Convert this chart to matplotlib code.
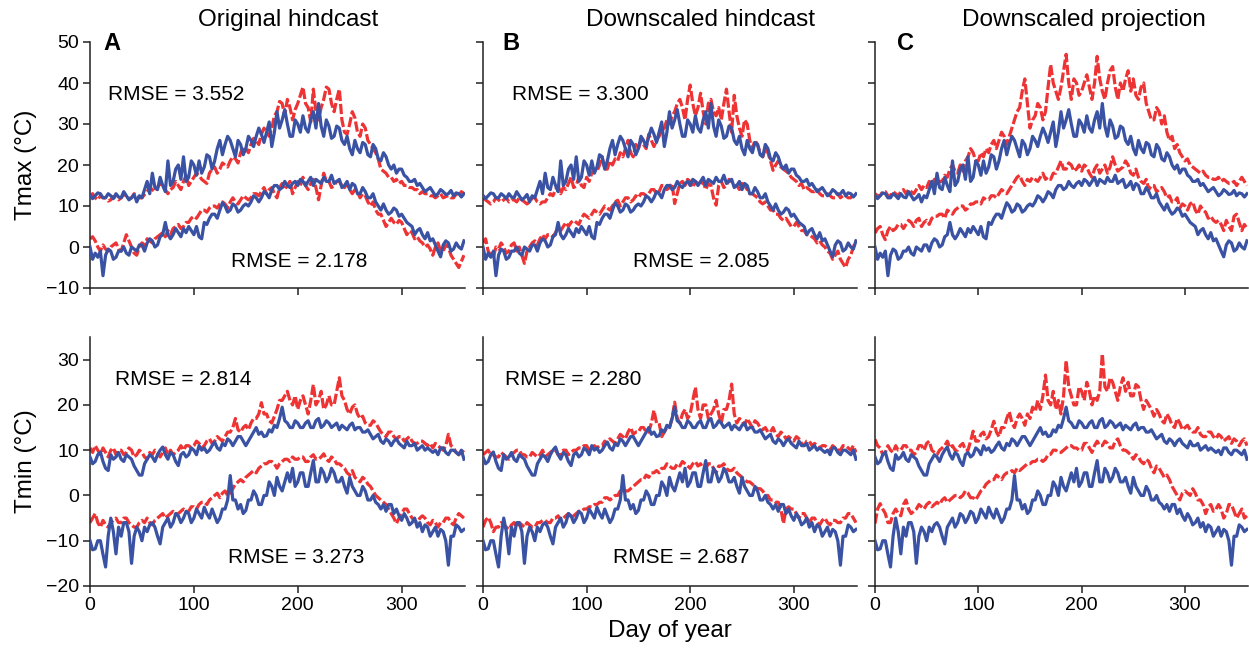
import numpy as np
import matplotlib
matplotlib.use("Agg")
import matplotlib.pyplot as plt

plt.rcParams['font.family'] = ['Liberation Sans', 'DejaVu Sans']

days = list(np.arange(0, 360.1, 2.5))   # 145 sample days

col_titles = ["Original hindcast", "Downscaled hindcast", "Downscaled projection"]
panel_letters = ["A", "B", "C"]
row_labels = ["Tmax (°C)", "Tmin (°C)"]
xtick_vals = [0, 100, 200, 300]

# observed (blue) series, shared by all columns; each row = 30 days
blue_tmax_hi = [12.6, 11.8, 12.5, 13.2, 13, 12, 12, 13, 12.5, 11.8, 13, 12.2,
                12, 13.5, 12.5, 11.5, 12, 12.8, 11, 12.5, 12, 14, 16, 13,
                18, 14.5, 14, 17, 15, 13.5, 21, 15, 16, 19, 20, 16.5,
                22, 16, 17, 21, 20, 17.5, 21, 18, 19.5, 22.5, 22, 19,
                21, 24, 26, 22.5, 25, 27, 26, 24, 22, 26, 25, 22.5,
                24, 27, 26, 24.5, 27, 29, 27.5, 25.5, 28, 30.5, 24.5, 28,
                33, 29, 31, 33.5, 30, 27, 27, 31, 30, 28, 32, 29,
                28, 31, 33, 29, 35, 29.5, 27, 31, 29.5, 26.5, 27, 29.5,
                29, 26, 25, 27, 24, 22.5, 26, 24, 23, 25.5, 25, 22.5,
                22, 25, 24, 21.5, 21, 23, 22, 20, 19, 20, 18, 19,
                19, 17.5, 17, 16, 16, 16.5, 15, 15.5, 14.5, 13.5, 14, 14.5,
                13.5, 12.5, 13, 14, 13.5, 12.8, 13, 13.8, 12.5, 13.2, 13, 12.2,
                13]
blue_tmax_lo = [0, -3, -1.5, -2.5, -1, -7, -2, -0.5, -1, -3, -2.5, -1,
                -1, 0, -1.5, -2, 0, -0.5, -1, 0.5, 0.5, -1, 1, 2,
                1.5, 0, 0.5, 2.5, 3, 6, 3, 2, 3, 4.5, 3.5, 2.5,
                4.5, 3.5, 5, 4, 3, 5, 2.5, 2, 6, 5.5, 7, 8,
                8, 7, 9, 10.8, 10, 8.5, 9, 10.5, 10, 8.5, 9, 10,
                10.5, 10, 11, 12.5, 12, 11, 12, 13.5, 13, 12, 14, 15,
                15, 14, 14.5, 16, 15, 14.5, 15.5, 16, 15, 16.5, 16, 15,
                16, 17, 15, 16.5, 16, 15.5, 17, 16, 16, 17.5, 15.5, 16,
                16.5, 14.5, 15, 16, 14, 15.5, 15, 13, 13, 14.5, 13.5, 12,
                12, 13, 11, 10, 9, 10.5, 9, 8, 8.5, 9.5, 9, 7.5,
                8, 7, 6, 5.5, 5, 3, 4, 4.5, 3, 2, 3.5, 1.5,
                2, 0.5, -1, -2.4, 0.5, 1.5, 1, -1, -0.5, 1, 0, -0.5,
                1.5]
blue_tmin_hi = [8.5, 7, 7.5, 9, 9.6, 7.5, 6, 5.5, 9, 8, 8.5, 9.5,
                8, 7.5, 9, 8.5, 8, 6.5, 5.5, 4.5, 4.5, 7, 8, 9,
                8.5, 7.5, 9, 10, 10.7, 9, 8, 9.5, 9, 7.5, 6.6, 9,
                9.5, 8.5, 9, 10.5, 10, 9, 11, 10, 10.5, 9.5, 10, 11,
                11.8, 10.5, 10, 11.5, 11, 12.5, 12, 11, 12, 13, 13, 12,
                11, 12, 13, 14, 15, 13.5, 14, 13, 13.2, 14.5, 14, 15.5,
                15, 17, 19.5, 16.5, 16, 15, 15, 16.5, 16, 15, 15, 16,
                16.5, 15, 15, 16.5, 17, 15, 15.5, 16.5, 16, 15, 15.5, 16,
                14.5, 15.5, 15, 14.5, 15.5, 16, 14.5, 15, 15, 14, 14, 14.5,
                13.5, 12.5, 13, 13.5, 12, 11.5, 12.5, 12, 11, 12, 12.5, 11.5,
                11, 10.5, 12, 11, 11, 11.5, 10, 10.5, 11, 10, 10.5, 10,
                9.5, 10, 9, 10.5, 10.5, 9.5, 9, 10, 10, 9.5, 9, 10,
                8]
blue_tmin_lo = [-10, -12, -11.8, -10, -10, -13, -15.8, -9, -5, -8, -12.9, -7,
                -9, -6, -6, -8, -15, -9, -7, -8, -10, -7, -8, -6.5,
                -6, -7, -9, -10.7, -7, -6, -5, -7, -6, -4, -4.5, -6,
                -5, -3.5, -4, -6, -5, -3, -4, -5, -2.6, -4, -5, -3,
                -4.5, -6, -5, -3, -3, -1, 4.4, -1, -1, -3, -2, -4,
                -3.3, -1, -1, 1, 0, -2, -2, 0, 0, 3, 2, 0,
                4, 2, 1, 3, 5, 3, 6, 2, 3, 5, 5, 2,
                2, 5, 7.7, 3, 3, 6, 5, 3, 4, 6, 5, 3,
                3, 4, 2, 0.5, 4, 2, 1, 0, 0, 2, 1, -1,
                -1, 0, -1.5, -2, -3, -2, -3.5, -2, -2, -4, -3, -4.5,
                -5.5, -4, -5, -6.5, -6, -5, -7, -6, -8, -6.5, -7, -9,
                -8, -7, -9, -7.5, -8, -10, -15.4, -9, -9, -6.5, -7, -8,
                -7.5]

# modelled (red, dashed) series
red_A_tmax_hi = [12.5, 13, 12, 11.5, 12.5, 12, 12, 11.2, 11.5, 12.3, 12, 11.5,
                 12, 12.8, 12.5, 11.8, 12, 13, 12.5, 12, 12, 12.8, 13.5, 14.5,
                 14, 13.5, 14.5, 15.5, 15, 14, 13, 14, 14.5, 16, 15, 14,
                 16, 17.5, 15, 16, 17, 18, 17.5, 16.5, 16, 15.5, 18, 19,
                 19.5, 18, 19, 20.5, 20, 19.5, 21, 22, 21.5, 20.5, 23, 24.5,
                 24, 23, 25, 26.5, 26, 25, 27.5, 29, 28, 27, 29, 32,
                 33, 35.5, 35, 32, 36, 34, 31, 33.5, 35, 37, 39, 35,
                 34, 30.5, 38.5, 33, 31, 34, 36, 39, 38.5, 35, 33, 36,
                 38.5, 31, 28, 27.5, 30, 33, 31.5, 28, 27, 30, 29, 26,
                 25, 24, 23, 21.5, 19, 18.5, 18, 17, 17, 16, 16.5, 15.5,
                 16, 15, 15, 14.5, 14.5, 14, 14, 13, 13.5, 13, 13, 12.5,
                 12.5, 12, 12.5, 13, 12, 12.3, 12.5, 12, 12, 13, 12.5, 13.5,
                 13]
red_A_tmax_lo = [2, 2.5, 1.5, 0, -1, 0.5, -0.5, -1, 0, 0.5, 1, -0.5,
                 -1, 1, 3, 1.5, 0, -1.5, -2, 0, 1, 0.5, 2, 1.5,
                 1, 2, 2.5, 3, 3.5, 2.5, 4, 3, 4.5, 5, 5.5, 4.5,
                 5, 6, 6, 7, 7.5, 7, 8, 9, 9, 8.5, 9.5, 10,
                 10, 9.5, 10.5, 11, 10.5, 9.5, 11, 12, 11, 10.5, 11.5, 12.5,
                 12, 11.5, 12, 13, 13, 12.5, 13.5, 14.5, 13, 14, 14.5, 13,
                 12, 14.5, 15.5, 14, 15, 16, 13, 14.5, 16, 15, 17, 15,
                 14, 15.5, 16.5, 14.5, 11.5, 15, 18, 16, 16, 14.5, 15, 16,
                 16, 15, 14.5, 15.5, 14, 13, 14, 13.5, 12, 13, 12.5, 11,
                 10, 11, 9, 8, 8, 6.5, 5, 6, 7, 6, 5.5, 6.5,
                 6, 4.5, 3, 4, 3.5, 2, 2.5, 1.5, 1, 0, 0.5, -0.5,
                 -2, 0, 1, -1, -1, 0.5, 0, -2, -3, -4, -5, -3.5,
                 -2]
red_B_tmax_hi = [12, 11.5, 11, 10.5, 11, 12, 11.5, 11, 11.5, 12, 11, 11.5,
                 11.5, 11, 12, 11.5, 11, 10.5, 11, 12, 12, 11, 10.5, 11,
                 11, 12, 13, 12.5, 14, 15, 13, 14.5, 14, 15.5, 17, 14.5,
                 15, 17, 15, 14.5, 17, 16, 18, 19, 18.5, 20, 22, 19,
                 19, 21, 20, 21.5, 21, 23, 22, 24, 26, 23, 22, 25,
                 24, 26, 25, 24, 27.5, 26, 24.5, 26, 27, 28.5, 29, 31,
                 30, 32, 33, 35, 36, 34, 31, 36, 39.5, 35, 32, 34,
                 37.5, 33, 30, 35, 36, 33, 32, 34, 31, 35, 38.5, 33,
                 28, 37, 32, 29, 27, 31, 30, 26, 24, 26, 25, 23,
                 22, 24, 23, 21, 18.7, 20, 21, 19.5, 19, 18.5, 18, 17,
                 16.5, 16, 15, 15.5, 14, 14.5, 14, 13.5, 13.5, 14, 13, 12.5,
                 12.5, 13, 12.5, 12, 12, 13, 12, 12.5, 12.5, 12, 12, 13,
                 12.5]
red_B_tmax_lo = [1, 2, -1, -2, -2.5, 0, -0.5, 1, 0, -1.5, -1, 0.5,
                 1, -1, 0, -2, -4, -1, 0, 1, 1.5, 0.5, 2, 3,
                 2, 3, 3, 2.5, 3.5, 4.5, 4, 5, 6, 5, 6, 6.5,
                 6, 5.5, 7, 8, 7.5, 7, 8, 9, 8.5, 8, 9, 10,
                 9.5, 9, 10, 11, 11.4, 10, 11, 12, 12, 11, 11.5, 12.5,
                 12, 13, 13, 12.5, 13, 14, 14, 13, 13.5, 15, 15, 14,
                 14.5, 15.5, 10.6, 13, 15.5, 16, 15, 16.5, 16, 14.5, 16, 15.5,
                 15, 16, 14, 15.5, 15, 12, 10.2, 15, 16, 14.5, 15, 16.5,
                 16, 15, 15, 14, 15.5, 15, 14, 13, 13, 12.5, 12, 11,
                 10.5, 11, 10, 9, 9, 8, 8, 7, 6.5, 7, 6, 5,
                 5, 6, 5, 4, 4, 3, 3, 2.5, 2, 1, 1.5, 0.5,
                 0, -1, -1.5, -3, -2, -1, -3, -4, -5, -3, -2, 0,
                 1.5]
red_C_tmax_hi = [13, 12.5, 12.5, 13.5, 13.5, 12.5, 12.5, 13.5, 13, 12.5, 13.5, 14,
                 13, 14, 13.5, 13, 14, 15, 14, 15, 14.5, 16, 15, 16.5,
                 15, 16, 16, 17.5, 17, 19, 20, 18.5, 18, 20, 18.5, 21,
                 22, 24, 23, 21, 21, 23, 22, 24, 23, 25, 26, 24,
                 26, 28, 27, 25, 27, 29, 31, 33, 34, 38, 41, 35,
                 29, 31, 32, 35, 34, 31, 33, 39, 44.5, 40, 38, 36,
                 39, 43, 47, 40, 36, 41, 40, 37, 38, 40, 42, 39,
                 36, 40, 46.5, 41, 38, 36, 40, 43, 44, 39, 36, 40,
                 38, 41, 43, 38, 41, 37, 36, 39, 40, 35, 33, 31,
                 31, 34, 33, 30, 32, 28, 26, 27, 24, 25, 23, 22,
                 21, 21.5, 20, 19.5, 19, 18.5, 18, 18.5, 17.5, 17, 17, 16.5,
                 16.5, 17, 16, 16.5, 16, 15.5, 15.5, 16, 15, 16, 17, 16,
                 15]
red_C_tmax_lo = [3.4, 4.5, 5, 3, 1.8, 4, 5, 4, 4.5, 5.5, 5.5, 4.5,
                 5.5, 6.5, 6, 5, 6.5, 7, 5, 6, 6.5, 5.5, 7, 7.5,
                 7.5, 8, 8, 7, 9, 8.5, 8, 9, 9.5, 10, 10, 9,
                 9.5, 10.5, 10.5, 11, 11, 10.5, 12, 11.5, 11.5, 12.5, 12.5, 12,
                 13, 14, 13.5, 13, 14, 15, 16, 17, 17.5, 16, 15, 16.5,
                 16, 17, 16.5, 16, 17, 18, 16.5, 17, 16.5, 18, 18, 19.5,
                 21, 19, 19, 20.5, 20, 18.5, 19, 20, 18.5, 20, 19.5, 18,
                 17, 19, 20, 18, 19, 20, 18, 19.5, 22, 20, 18.5, 19,
                 19.5, 21, 20, 18, 17.5, 19, 17, 16, 15.5, 16.5, 14, 15,
                 15, 13.5, 14, 14.5, 13.5, 12, 12.5, 11, 11, 12, 9.5, 10.5,
                 10, 9, 10.5, 11, 9, 8, 10, 9, 8.5, 7, 7.5, 6.5,
                 6, 6.5, 5.5, 4, 6.5, 5, 4, 7.5, 8, 6, 4, 5.5,
                 4.5]
red_A_tmin_hi = [10.5, 9.5, 11, 10, 9, 10.5, 9.5, 8.5, 10, 10.5, 9, 10,
                 10, 9, 9.5, 10.5, 10, 8.5, 9, 10, 9.5, 8.5, 8, 9.5,
                 9, 10, 9.5, 8.5, 9.5, 10.5, 9, 10, 9, 9.5, 10, 11,
                 10, 11, 11, 10.5, 11, 12, 11.5, 10.5, 11, 12, 12.5, 11.5,
                 12, 13, 12.5, 12, 13, 14, 14, 15, 17, 14.5, 14, 15,
                 15.5, 14.5, 16, 17, 17, 18, 20.5, 18, 18, 16.5, 16, 17.5,
                 19, 21, 21, 22, 23, 21, 20, 22, 19, 21, 22, 20,
                 18, 21, 24.5, 20, 21, 23, 19, 20, 22, 20, 20, 23,
                 26, 22, 21, 19, 18, 19.5, 20, 18, 17, 17.5, 16, 15.5,
                 15.5, 16.5, 16, 15, 14, 13.5, 13, 14, 14, 13, 12.5, 13,
                 13, 12, 12.5, 13, 12, 11.5, 11.5, 12, 12, 11.5, 11, 11.5,
                 10.5, 11.5, 11, 10.5, 10, 11, 13.5, 11, 10.5, 9.5, 9, 10,
                 9.5]
red_A_tmin_lo = [-6, -5, -4, -6, -7, -5.5, -6.5, -7, -6, -5.5, -5, -6,
                 -6, -5, -5, -6, -6.5, -7, -7, -6, -5.5, -6, -5, -6,
                 -6.5, -5.5, -5, -4.5, -4, -5, -4.5, -4, -3.5, -4, -4, -3.5,
                 -3, -3.5, -3.5, -2.5, -2.5, -3, -2, -1.5, -1.5, -2, -1, -0.5,
                 0, 0.5, -0.5, 0.5, 1, 0, 0.5, 1.5, 2.5, 3, 3.5, 3,
                 4, 4.5, 5, 5.5, 5, 6, 6.5, 7, 7, 7.5, 7.5, 7,
                 6, 7, 7.5, 8, 8, 7.5, 8.5, 8, 8, 8.5, 8.5, 7.5,
                 7.5, 8.5, 9, 8, 8, 8.5, 9.2, 8, 7.5, 8.5, 8, 7,
                 7, 6.5, 6, 5, 4.5, 5.5, 4, 3.5, 3, 4, 3.5, 2.5,
                 2, 1, 0, -0.5, -1, -1.5, -2, -3, -4, -5, -6.2, -5,
                 -4, -3, -3, -4, -5, -5.5, -6, -5, -4.5, -5, -6, -6.5,
                 -5.5, -6, -7, -6, -6, -5, -5, -6, -6.5, -5, -4, -4.5,
                 -5]
red_B_tmin_hi = [9, 9.5, 10, 9, 9, 8.5, 8.5, 9.5, 9, 8.5, 8, 9,
                 9.5, 10, 10, 9, 9, 8.5, 8.5, 9.5, 9, 8.5, 9, 10,
                 8.5, 9, 9.5, 10, 10, 9, 9, 10, 10, 9, 9.5, 10,
                 10, 10.5, 10.5, 11, 11, 10, 10, 11, 10.5, 11, 11, 12,
                 11.5, 12.5, 12, 11.5, 12.5, 13.5, 13, 12.5, 14, 15, 13.5, 14,
                 14, 15, 15, 14, 14, 16, 18.8, 16, 16, 13, 14, 15,
                 15, 17, 20.6, 17, 16, 18, 19, 17, 18, 21, 23.9, 19,
                 17, 20, 20, 17, 18, 19, 21, 18, 16, 19, 19, 21,
                 24.6, 18, 16, 17, 16.5, 15.5, 17, 16, 15, 16.5, 16, 15,
                 14.5, 15, 14, 14, 15, 13.5, 13, 14, 13.5, 12.5, 13, 12.5,
                 12, 13, 12.5, 11.5, 11, 12, 12, 11, 11.5, 11, 10.5, 11,
                 11, 10.5, 10, 11, 10.5, 10, 10, 11, 11, 10.5, 10, 11,
                 9.5]
red_B_tmin_lo = [-7, -5.5, -4.8, -6, -8, -7, -7, -6, -6.5, -7, -7.5, -6.5,
                 -6, -7, -6, -6.5, -7, -6, -6.5, -7, -7, -6, -6, -5.5,
                 -5.5, -6, -6, -5, -5, -4.5, -5.5, -5, -4.5, -4, -5, -4.5,
                 -4, -3.5, -3.5, -3, -3, -2.5, -2.5, -2, -2, -1.5, -1.5, -0.5,
                 -0.5, -1, -0.5, 0, 0, 1, 0.5, 1, 1, 1.5, 2, 2.5,
                 3, 3.5, 3.5, 4.5, 4, 5, 5, 5.5, 5, 6, 6, 7,
                 6.5, 6, 6, 7, 6.5, 7.5, 7, 6.5, 6, 7, 7.5, 6.5,
                 7, 6, 6, 7, 7, 6, 5, 6.5, 6.5, 7, 6, 5.5,
                 5.5, 6, 5, 4.5, 4, 3.5, 3, 3, 2.5, 2, 1.5, 1.5,
                 1, 0, 0, -1, -1, -1.5, -1.5, -3, -6.2, -3, -2.5, -3,
                 -3, -4, -5, -4, -4, -5, -6, -5, -5, -6, -6.5, -5.5,
                 -5, -6, -6.5, -5.5, -5.5, -6, -6, -5, -5, -4, -4, -5,
                 -6]
red_C_tmin_hi = [12.4, 11, 10.5, 9, 9.5, 11, 10, 9.5, 11, 10, 10, 11,
                 11, 10, 10, 9, 9.5, 11, 11, 10, 11.5, 12, 10, 9.5,
                 9, 10, 10.5, 11, 12, 10.5, 11, 10, 10, 11, 11.5, 10,
                 10, 12, 14.2, 12, 12, 13.5, 14, 12.5, 13, 14.5, 16.4, 14,
                 13, 15, 15, 17, 18.5, 16, 15, 17, 18, 17, 15.5, 18,
                 17, 19.5, 18.5, 21, 19, 22, 26.6, 21, 20, 23, 19, 21,
                 18, 22, 29.8, 24, 22, 20, 20, 24, 23, 21, 25, 23,
                 20, 22, 21, 23, 31.3, 24, 23, 26, 25, 23, 21, 24,
                 26, 23, 25, 22, 22, 24.5, 24, 21, 19, 21, 20, 19,
                 17.5, 19, 18, 16.5, 16, 18, 17, 15.5, 15, 17, 16, 14.5,
                 15, 15.5, 14.5, 14, 14, 15, 13.5, 13, 13, 14, 14, 13,
                 12.5, 13.5, 13, 12, 12.5, 13, 11.5, 12.5, 12, 11, 12, 12.5,
                 11]
red_C_tmin_lo = [-6.2, -3, -1.8, -3, -4, -6, -6, -4, -3, -4, -4.5, -2,
                 -1, -3, -4, -3.5, -3, -2, -2.5, -3, -2, -1.5, -2.5, -2,
                 -1.5, -2, -1, -0.5, -1.5, -1, -0.5, 0, 0, -0.5, 0, 1,
                 0.5, -0.5, -0.5, -1, 0, 1, 1.5, 2.5, 3, 3.5, 3.5, 4.5,
                 4, 3.5, 4.5, 5, 5, 5.5, 5, 6, 5.5, 6, 6.5, 7,
                 7, 7.5, 7.5, 8, 8, 7.5, 8, 9, 9.1, 10, 10, 9.5,
                 9.5, 10, 10.5, 11, 11, 10.5, 10.5, 10, 10, 11.5, 11.5, 10.5,
                 9.5, 11, 12, 11, 11, 12, 11.5, 10.5, 10.5, 12, 12.5, 11,
                 10, 10, 9.5, 9, 8, 9, 8.5, 7.5, 7, 8, 7.5, 6,
                 5, 6.5, 6, 5, 4, 4.5, 3.5, 2, 1, 0, -1, 0.5,
                 1, 0.5, 0, 1.5, 0.5, -1, -1, -2, -4, -2.5, -2, -3.5,
                 -3, -2, -3, -5, -4, -2, -2, -3.5, -5, -4, -3, -5,
                 -4.5]

rmse_text = {
    (0, 0): ["RMSE = 3.552", "RMSE = 2.178"],
    (0, 1): ["RMSE = 3.300", "RMSE = 2.085"],
    (1, 0): ["RMSE = 2.814", "RMSE = 3.273"],
    (1, 1): ["RMSE = 2.280", "RMSE = 2.687"],
}

blue = "#3a52a3"
red = "#ee3334"

W, H = 1249, 654
fig = plt.figure(figsize=(W / 100, H / 100), dpi=100)

col_x = [(90, 465), (483, 857), (875, 1248)]
row_y = [(42, 288), (337, 586)]

obs = [[blue_tmax_hi, blue_tmax_lo], [blue_tmin_hi, blue_tmin_lo]]
mod = [
    [[red_A_tmax_hi, red_A_tmax_lo], [red_B_tmax_hi, red_B_tmax_lo], [red_C_tmax_hi, red_C_tmax_lo]],
    [[red_A_tmin_hi, red_A_tmin_lo], [red_B_tmin_hi, red_B_tmin_lo], [red_C_tmin_hi, red_C_tmin_lo]],
]
ylims = [(-10, 50), (-20, 35)]
yticks = [list(range(-10, 51, 10)), list(range(-20, 31, 10))]

rmse_pos = {
    (0, 0): [(17, 35.9), (135.5, -4.9)],
    (0, 1): [(28, 35.9), (145, -4.9)],
    (1, 0): [(24, 24.5), (133, -14.9)],
    (1, 1): [(21, 24.5), (125, -14.9)],
}
letter_x = [0.037, 0.051, 0.059]


def xy(series):
    n = min(len(series), len(days))
    return days[:n], series[:n]


axes = {}
for r in range(2):
    for c in range(3):
        x0, x1 = col_x[c]
        yt, yb = row_y[r]
        ax = fig.add_axes([x0 / W, 1 - yb / H, (x1 - x0) / W, (yb - yt) / H])
        axes[(r, c)] = ax
        for s in mod[r][c]:
            ax.plot(*xy(s), color=red, lw=2.3, dashes=(3.2, 0.9), zorder=2)
        for s in obs[r]:
            ax.plot(*xy(s), color=blue, lw=2.3, zorder=3)
        ax.set_xlim(0, 361)
        ax.set_ylim(*ylims[r])
        ax.set_yticks(yticks[r])
        ax.set_xticks(xtick_vals)
        for sp in ["top", "right"]:
            ax.spines[sp].set_visible(False)
        for sp in ["left", "bottom"]:
            ax.spines[sp].set_linewidth(1.1)
            ax.spines[sp].set_color("#222222")
        ax.tick_params(direction="out", length=5, width=1.1, color="#222222",
                       labelsize=14, pad=3)
        if c > 0:
            ax.tick_params(labelleft=False)
        if r == 0:
            ax.tick_params(labelbottom=False)
        if (r, c) in rmse_text:
            for txt, (tx, ty) in zip(rmse_text[(r, c)], rmse_pos[(r, c)]):
                ax.text(tx, ty, txt, fontsize=15, ha="left", va="baseline")
        if r == 0:
            ax.text(letter_x[c], 0.967, panel_letters[c], transform=ax.transAxes,
                    fontsize=17, fontweight="bold", ha="left", va="baseline")
    axes[(r, 0)].set_ylabel(row_labels[r], fontsize=17.5, labelpad=6)

axes[(1, 1)].set_xlabel("Day of year", fontsize=17.5, labelpad=4)

title_cx = [288, 701, 1084]
for c in range(3):
    fig.text(title_cx[c] / W, 1 - 20 / H, col_titles[c], fontsize=17.5,
             ha="center", va="center")

fig.savefig("out.png", dpi=100)
